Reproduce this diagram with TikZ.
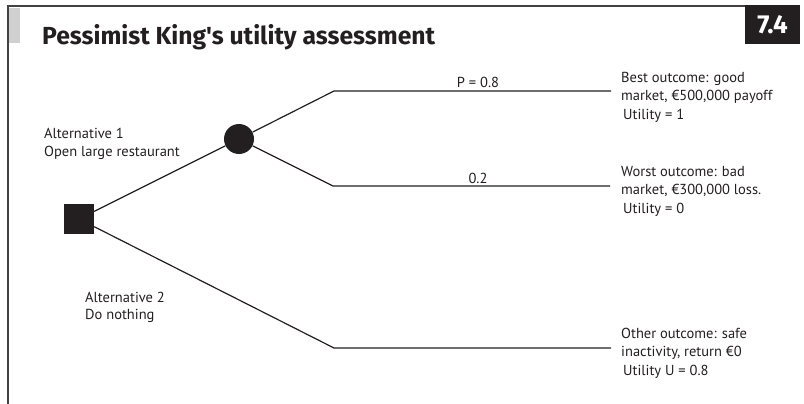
\documentclass[tikz,border=0pt]{standalone}
\usepackage{fontspec}
\setmainfont{PT Sans}[Ligatures=TeXOff]
\newfontfamily\headfont{Fira Sans}[Ligatures=TeXOff]
\definecolor{ink}{HTML}{231F20}
\definecolor{barg}{HTML}{D0D0D0}
\begin{document}
\begin{tikzpicture}[x=1pt,y=-1pt,
  branch/.style={draw=ink, line width=1.2pt},
  lbl/.style={font=\fontsize{14.5}{18}\selectfont, text=ink, inner sep=0pt, anchor=base west},
  plabel/.style={font=\fontsize{14.5}{18}\selectfont, text=ink, inner sep=0pt, anchor=base}]
\useasboundingbox (0,0) rectangle (804,404);
% frame
\fill[barg] (8,8) rectangle (20,43);
\draw[ink!85, line width=1.2pt] (8,404) -- (8,6) -- (746,6);
\fill[ink] (745,5) rectangle (800,44);
\node[font=\headfont\bfseries\fontsize{26}{28}\selectfont, text=white, inner sep=0pt, anchor=base] (num) at (772.5,34) {7.4};
\node[font=\headfont\bfseries\fontsize{24.7}{26}\selectfont, text=ink, inner sep=0pt, anchor=base west] (title) at (42,45) {Pessimist King's utility assessment};
% nodes
\node[fill=ink, minimum size=30pt, inner sep=0pt] (dec) at (79,219) {};
\node[circle, fill=ink, minimum size=30pt, inner sep=0pt] (ch) at (239,139) {};
\coordinate (a1) at (334,91);
\coordinate (a2) at (611,91);
\coordinate (b1) at (333,186);
\coordinate (b2) at (610,186);
\coordinate (c1) at (334,348);
\coordinate (c2) at (611,348);
\draw[branch] (dec) -- (ch);
\draw[branch] (ch) -- (a1) -- (a2);
\draw[branch] (ch) -- (b1) -- (b2);
\draw[branch] (dec) -- (c1) -- (c2);
% labels
\node[plabel] (p1) at (478,88) {P = 0.8};
\node[plabel] (p2) at (478,183) {0.2};
\node[lbl] (t1a) at (621,83) {Best outcome: good};
\node[lbl] (t1b) at (621,101) {market, €500,000 payoff};
\node[lbl] (t1c) at (623,120) {Utility = 1};
\node[lbl] (t2a) at (621,176) {Worst outcome: bad};
\node[lbl] (t2b) at (621,194) {market, €300,000 loss.};
\node[lbl] (t2c) at (623,213) {Utility = 0};
\node[lbl] (t3a) at (621,338) {Other outcome: safe};
\node[lbl] (t3b) at (621,356) {inactivity, return €0};
\node[lbl] (t3c) at (623,375) {Utility U = 0.8};
\node[lbl] (alt1a) at (44,139) {Alternative 1};
\node[lbl] (alt1b) at (44,157) {Open large restaurant};
\node[lbl] (alt2a) at (85,302) {Alternative 2};
\node[lbl] (alt2b) at (85,319) {Do nothing};
\end{tikzpicture}
\end{document}
